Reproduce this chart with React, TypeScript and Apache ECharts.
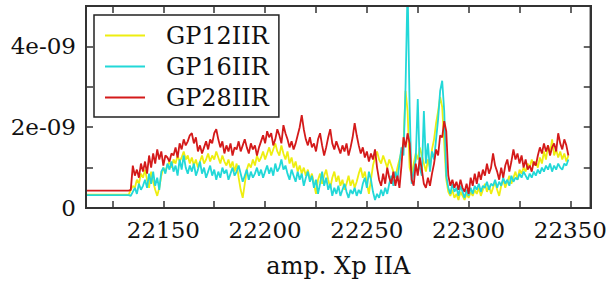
import React, { useEffect, useRef } from "react";
import * as echarts from "echarts";

// x positions: flat lead-in then one sample per unit from 22134 to 22349
const leadX = [22112, 22133];
const firstX = 22134;

// values in units of 1e-09
const gp12Lead = [0.33, 0.33];
const gp16Lead = [0.32, 0.32];
const gp28Lead = [0.43, 0.43];

const gp12 = [
  0.45, 0.55, 0.5, 0.7, 0.6, 0.85, 0.75, 0.95, 0.7, 0.5,
  0.9, 0.65, 0.45, 0.3, 0.5, 0.8, 1.0, 0.9, 1.05, 1.15,
  1.0, 1.2, 1.1, 1.3, 1.15, 1.25, 1.4, 1.2, 1.3, 1.1,
  1.25, 1.05, 1.2, 1.0, 1.15, 1.3, 1.1, 1.2, 1.35, 1.15,
  1.3, 1.2, 1.4, 1.25, 1.1, 1.3, 1.15, 1.05, 1.2, 1.0,
  1.15, 0.9, 1.1, 0.75, 0.45, 0.25, 0.6, 0.95, 1.1, 1.0,
  1.2, 1.05, 1.3, 1.15, 1.25, 1.4, 1.2, 1.35, 1.5, 1.3,
  1.45, 1.6, 1.4, 1.3, 1.55, 1.35, 1.2, 1.4, 1.1, 1.25,
  1.0, 1.15, 0.9, 1.05, 0.85, 1.0, 0.8, 0.95, 0.7, 0.85,
  0.6, 0.35, 0.7, 0.85, 0.6, 0.8, 0.95, 0.7, 0.5, 0.75,
  0.9, 0.65, 0.8, 0.55, 0.7, 0.45, 0.6, 0.8, 0.55, 0.7,
  0.5, 0.65, 0.85, 1.0, 0.75, 0.9, 0.6, 0.35, 0.7, 1.05,
  1.25, 1.4, 1.2, 1.1, 1.3, 1.15, 1.0, 1.2, 1.05, 0.9,
  0.75, 1.0, 1.2, 1.4, 1.6, 2.9, 2.4, 1.0, 0.8, 1.1,
  1.35, 1.2, 1.5, 1.3, 1.1, 0.9, 1.2, 1.0, 1.45, 1.7,
  2.1, 2.4, 2.75, 2.5, 1.6, 0.7, 0.4, 0.3, 0.45, 0.25,
  0.35, 0.2, 0.4, 0.3, 0.2, 0.35, 0.25, 0.4, 0.3, 0.45,
  0.35, 0.5, 0.3, 0.45, 0.6, 0.4, 0.55, 0.35, 0.5, 0.65,
  0.45, 0.3, 0.55, 0.7, 0.5, 0.65, 0.8, 0.6, 0.75, 0.9,
  0.7, 0.95, 0.85, 1.0, 0.9, 1.1, 1.0, 1.2, 1.05, 1.15,
  1.0, 1.25, 1.1, 1.4, 1.2, 1.55, 1.35, 1.7, 1.3, 1.45,
  1.25, 1.4, 1.2, 1.35, 1.15, 1.3,
];

const gp16 = [
  0.3, 0.4, 0.5, 0.35, 0.6, 0.45, 0.55, 0.7, 0.5, 0.85,
  0.6, 0.9, 0.55, 0.75, 0.45, 0.9, 1.0, 0.85, 1.1, 0.95,
  1.15, 0.9, 1.05, 0.8, 1.2, 0.95, 1.3, 1.0, 0.85, 1.05,
  0.9, 1.1, 0.8, 0.95, 1.15, 0.85, 1.0, 0.75, 0.9, 1.05,
  0.8, 0.95, 0.7, 0.9, 0.75, 1.0, 0.85, 0.95, 0.7, 0.85,
  1.0, 0.8, 0.9, 1.05, 0.85, 0.65, 0.8, 0.95, 0.7, 0.9,
  0.75, 0.85, 1.0, 0.8, 0.95, 0.75, 0.9, 1.05, 0.85, 1.0,
  0.8, 1.1, 0.9, 1.0, 1.2, 0.95, 1.05, 0.85, 0.7, 0.95,
  0.8, 0.65, 0.9, 0.7, 0.85, 0.55, 0.75, 0.9, 0.65, 0.8,
  0.5, 0.7, 0.35, 0.6, 0.9, 0.55, 0.75, 0.45, 0.6, 0.3,
  0.5, 0.35, 0.55, 0.3, 0.45, 0.6, 0.4, 0.25, 0.45, 0.35,
  0.5, 0.3, 0.45, 0.35, 0.6, 0.75, 0.5, 0.9, 0.7, 0.4,
  0.2, 0.35, 0.25, 0.45, 0.3, 0.5, 0.35, 0.6, 0.8, 0.55,
  0.9, 0.7, 1.1, 1.5, 1.3, 3.0, 5.5, 2.5, 0.6, 0.9,
  1.2, 2.7, 1.0, 0.8, 2.4, 1.1, 1.6, 0.9, 1.4, 1.2,
  1.7, 2.2, 2.9, 3.15, 2.4, 0.8, 0.5, 0.35, 0.6, 0.4,
  0.5, 0.3, 0.55, 0.4, 0.25, 0.45, 0.3, 0.5, 0.35, 0.55,
  0.45, 0.6, 0.4, 0.55, 0.5, 0.65, 0.45, 0.6, 0.55, 0.7,
  0.5, 0.65, 0.55, 0.75, 0.6, 0.7, 0.55, 0.8, 0.65, 0.75,
  0.7, 0.85, 0.75, 0.9, 0.8, 0.7, 0.85, 0.75, 0.9, 0.8,
  0.95, 0.85, 1.0, 0.9, 1.05, 0.95, 1.1, 0.9, 1.05, 0.95,
  1.1, 1.0, 0.95, 1.1, 1.05, 1.2,
];

const gp28 = [
  0.45, 1.05, 0.8, 0.95, 0.75, 1.1, 0.9, 1.15, 0.85, 1.3,
  1.0, 1.35, 1.1, 1.45, 1.2, 1.4, 1.05, 1.3, 1.25, 1.15,
  1.35, 1.3, 1.5, 1.25, 1.6, 1.45, 1.7, 1.55, 1.65, 1.8,
  1.85, 1.6, 1.75, 1.4, 1.55, 1.35, 1.5, 1.65, 1.45, 1.7,
  1.6, 1.85, 1.95, 1.7, 1.5, 1.65, 1.35, 1.55, 1.4, 1.6,
  1.3, 1.5, 1.45, 1.65, 1.4, 1.55, 1.7, 1.5, 1.35, 1.6,
  1.45, 1.55, 1.3, 1.5, 1.65, 1.8, 1.6, 1.9, 1.75, 1.85,
  1.55, 1.7, 1.95, 1.8, 1.6, 2.05, 1.85, 1.7, 1.5, 1.65,
  1.45, 1.6, 1.8, 2.0, 2.3, 1.95, 1.7, 1.55, 1.75, 1.5,
  1.6, 1.4, 1.7, 1.85, 1.55, 1.3, 1.5, 1.75, 1.95, 1.6,
  1.45, 1.65, 1.5, 1.35, 1.55, 1.4, 1.6, 1.3, 1.5, 1.75,
  2.1, 1.8, 1.55, 1.35, 1.5, 1.25, 1.4, 1.15, 1.35, 1.2,
  1.45, 1.0, 0.7, 0.55, 0.85, 0.6, 1.0, 0.75, 0.6, 0.9,
  0.55, 0.8, 0.5, 1.05, 1.75, 1.5, 1.85, 1.6, 0.7, 0.55,
  1.1, 0.8, 1.25, 0.95, 0.6, 0.5, 0.75, 0.55, 0.85, 1.1,
  1.45, 1.3, 1.8, 1.75, 2.15, 1.9, 0.8, 0.55, 0.7, 0.5,
  0.65, 0.45, 0.7, 0.5, 0.4, 0.6, 0.35, 0.75, 0.55, 0.85,
  0.6, 0.9, 0.7, 0.95, 0.8, 1.1, 0.85, 1.0, 1.35, 1.05,
  0.9, 0.7, 1.0, 0.75, 1.05, 1.2, 0.9, 1.15, 1.45, 1.2,
  1.35, 1.1, 1.3, 1.0, 1.2, 0.95, 1.05, 0.9, 1.15, 1.05,
  1.3, 1.5, 1.35, 1.6, 1.4, 1.55, 1.3, 1.5, 1.6, 1.4,
  1.85, 1.6, 1.45, 1.7, 1.55, 1.3,
];

const seriesNames = ["GP12IIR", "GP16IIR", "GP28IIR"];
const seriesColors = ["#eeee10", "#22d8d8", "#d41a1a"];

const xMin = 22112;
const xMax = 22360;
const yMin = 0;
const yMax = 5;
const xTickValues = [22125, 22150, 22175, 22200, 22225, 22250, 22275, 22300, 22325, 22350];
const xLabelValues = [22150, 22200, 22250, 22300, 22350];
const yLabelValues = [0, 2, 4];
const xTitle = "amp. Xp IIA";

const FONT = "DejaVu Serif";

function buildPoints(lead: number[], vals: number[]) {
  const pts: [number, number][] = leadX.map((x, i) => [x, lead[i]]);
  vals.forEach((v, i) => pts.push([firstX + i, v]));
  return pts;
}

export default function App() {
  const ref = useRef<HTMLDivElement>(null);
  useEffect(() => {
    if (!ref.current) return;
    const chart = echarts.init(ref.current, null, { renderer: "svg" });
    const tickCommon = { inside: true, length: 7, lineStyle: { color: "#333", width: 1.5 } };
    const axisLine = { show: true, onZero: false, lineStyle: { color: "#333", width: 2 } };
    const txt = { fontFamily: FONT, fontSize: 23, fontWeight: "normal", color: "#111" };
    chart.setOption({
      animation: false,
      backgroundColor: "#fff",
      textStyle: { fontFamily: FONT },
      grid: {
        left: 86,
        right: 17,
        top: 6,
        bottom: 74,
        show: true,
        borderColor: "#333",
        borderWidth: 2,
        backgroundColor: "transparent",
      },
      legend: {
        orient: "vertical",
        left: 94,
        top: 15,
        padding: [5, 10, 4, 11],
        itemGap: 0,
        itemWidth: 40,
        itemHeight: 2,
        icon: "rect",
        borderColor: "#222",
        borderWidth: 1.5,
        borderRadius: 0,
        backgroundColor: "#fff",
        data: seriesNames,
        textStyle: { ...txt, fontSize: 24, lineHeight: 31, padding: [0, 0, 0, 16] },
      },
      xAxis: [
        {
          type: "value",
          min: xMin,
          max: xMax,
          position: "bottom",
          axisLine,
          splitLine: { show: false },
          axisTick: { ...tickCommon, customValues: xTickValues },
          axisLabel: {
            ...txt,
            customValues: xLabelValues,
            formatter: (v: number) => String(v),
            margin: 10,
          },
          name: xTitle,
          nameLocation: "middle",
          nameGap: 46,
          nameTextStyle: { ...txt, fontSize: 24 },
        },
        {
          type: "value",
          min: xMin,
          max: xMax,
          position: "top",
          axisLine,
          splitLine: { show: false },
          axisTick: { ...tickCommon, customValues: xTickValues },
          axisLabel: { show: false },
        },
      ],
      yAxis: [
        {
          type: "value",
          min: yMin,
          max: yMax,
          interval: 1,
          position: "left",
          axisLine,
          splitLine: { show: false },
          axisTick: tickCommon,
          axisLabel: {
            ...txt,
            customValues: yLabelValues,
            formatter: (v: number) => (v === 0 ? "0" : `${v}e-09`),
            margin: 10,
          },
        },
        {
          type: "value",
          min: yMin,
          max: yMax,
          interval: 1,
          position: "right",
          axisLine,
          splitLine: { show: false },
          axisTick: tickCommon,
          axisLabel: { show: false },
        },
      ],
      series: [
        { lead: gp12Lead, vals: gp12 },
        { lead: gp16Lead, vals: gp16 },
        { lead: gp28Lead, vals: gp28 },
      ].map((s, i) => ({
        name: seriesNames[i],
        type: "line",
        xAxisIndex: 0,
        yAxisIndex: 0,
        symbol: "none",
        clip: true,
        color: seriesColors[i],
        lineStyle: { color: seriesColors[i], width: 1.8 },
        data: buildPoints(s.lead, s.vals),
      })),
    });
    // frame around the plot area, corners taken from the axes' own scales
    const tl = chart.convertToPixel({ xAxisIndex: 0, yAxisIndex: 0 }, [xMin, yMax]) as number[];
    const br = chart.convertToPixel({ xAxisIndex: 0, yAxisIndex: 0 }, [xMax, yMin]) as number[];
    if (tl && br) {
      chart.setOption({
        graphic: [
          {
            type: "rect",
            z: 100,
            silent: true,
            shape: { x: tl[0], y: tl[1], width: br[0] - tl[0], height: br[1] - tl[1] },
            style: { fill: "none", stroke: "#333", lineWidth: 2 },
          },
        ],
      });
    }
    return () => chart.dispose();
  }, []);
  return (
    <div
      ref={ref}
      style={{ position: "fixed", left: 0, top: 0, width: 610, height: 283, background: "#fff" }}
    />
  );
}
